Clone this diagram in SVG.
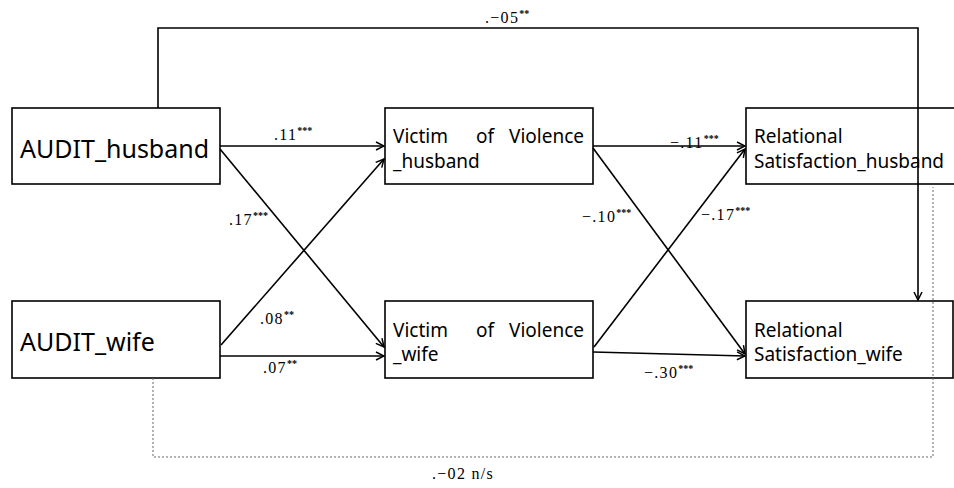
<svg xmlns="http://www.w3.org/2000/svg" width="954" height="488" viewBox="0 0 954 488">
<style>
.box{fill:#fff;stroke:#000;stroke-width:1.6}
.ln{fill:none;stroke:#000;stroke-width:1.6}
.dash{fill:none;stroke:#666;stroke-width:1;stroke-dasharray:2,2}
.big{font-family:"Noto Sans","Open Sans",sans-serif;font-size:25px;fill:#000}
.nt{font-family:"Noto Sans","Open Sans",sans-serif;font-size:19px;fill:#000}
.lb{font-family:"Liberation Serif","DejaVu Serif",serif;font-size:16px;letter-spacing:1.3px;fill:#000}
.st{font-size:10px;font-weight:bold;letter-spacing:0}
</style>
<defs>
<marker id="ah" markerWidth="10" markerHeight="10" refX="9" refY="5" orient="auto" markerUnits="userSpaceOnUse">
<path d="M1,1 L9,5 L1,9" fill="none" stroke="#000" stroke-width="1.5"/>
</marker>
</defs>
<g id="audit_husband">
<rect class="box" x="12" y="108" width="208" height="76"/>
<text class="big" x="20" y="158">AUDIT_husband</text>
</g>
<g id="audit_wife">
<rect class="box" x="12" y="301" width="208" height="77"/>
<text class="big" x="20" y="351">AUDIT_wife</text>
</g>
<g id="victim_husband">
<rect class="box" x="385" y="108" width="208" height="76"/>
<text class="nt" x="393" y="143">Victim</text>
<text class="nt" x="476" y="143">of</text>
<text class="nt" x="584" y="143" text-anchor="end">Violence</text>
<text class="nt" x="393" y="168">_husband</text>
</g>
<g id="victim_wife">
<rect class="box" x="385" y="301" width="208" height="77"/>
<text class="nt" x="393" y="337">Victim</text>
<text class="nt" x="476" y="337">of</text>
<text class="nt" x="584" y="337" text-anchor="end">Violence</text>
<text class="nt" x="393" y="361">_wife</text>
</g>
<g id="rel_husband">
<rect class="box" x="746" y="108" width="210" height="76"/>
<text class="nt" x="754" y="143">Relational</text>
<text class="nt" x="754" y="168">Satisfaction_husband</text>
</g>
<g id="rel_wife">
<rect class="box" x="746" y="301" width="207" height="77"/>
<text class="nt" x="754" y="337">Relational</text>
<text class="nt" x="754" y="361">Satisfaction_wife</text>
</g>
<g id="connectors">
<path class="dash" d="M153,378 V457 H933 V187"/>
<path class="ln" d="M158,108 V28 H918 V300" marker-end="url(#ah)"/>
<line class="ln" x1="220" y1="146" x2="384" y2="146" marker-end="url(#ah)"/>
<line class="ln" x1="220" y1="149" x2="384" y2="347" marker-end="url(#ah)"/>
<line class="ln" x1="221" y1="345" x2="384" y2="159" marker-end="url(#ah)"/>
<line class="ln" x1="220" y1="356" x2="384" y2="356" marker-end="url(#ah)"/>
<line class="ln" x1="593" y1="146" x2="745" y2="146" marker-end="url(#ah)"/>
<line class="ln" x1="593" y1="148" x2="745" y2="354" marker-end="url(#ah)"/>
<line class="ln" x1="594" y1="347" x2="745" y2="149" marker-end="url(#ah)"/>
<line class="ln" x1="593" y1="352" x2="745" y2="356" marker-end="url(#ah)"/>
</g>
<g id="labels">
<text class="lb" x="274" y="140">.11<tspan class="st" dy="-6">***</tspan></text>
<text class="lb" x="229" y="225">.17<tspan class="st" dy="-6">***</tspan></text>
<text class="lb" x="260" y="324">.08<tspan class="st" dy="-6">**</tspan></text>
<text class="lb" x="263" y="373">.07<tspan class="st" dy="-6">**</tspan></text>
<text class="lb" x="670" y="148">−.11<tspan class="st" dy="-6">***</tspan></text>
<text class="lb" x="582" y="222">−.10<tspan class="st" dy="-6">***</tspan></text>
<text class="lb" x="701" y="220">−.17<tspan class="st" dy="-6">***</tspan></text>
<text class="lb" x="644" y="378">−.30<tspan class="st" dy="-6">***</tspan></text>
<text class="lb" x="485" y="23">.−05<tspan class="st" dy="-6">**</tspan></text>
<text class="lb" x="432" y="479">.−02 n/s</text>
</g>
</svg>
